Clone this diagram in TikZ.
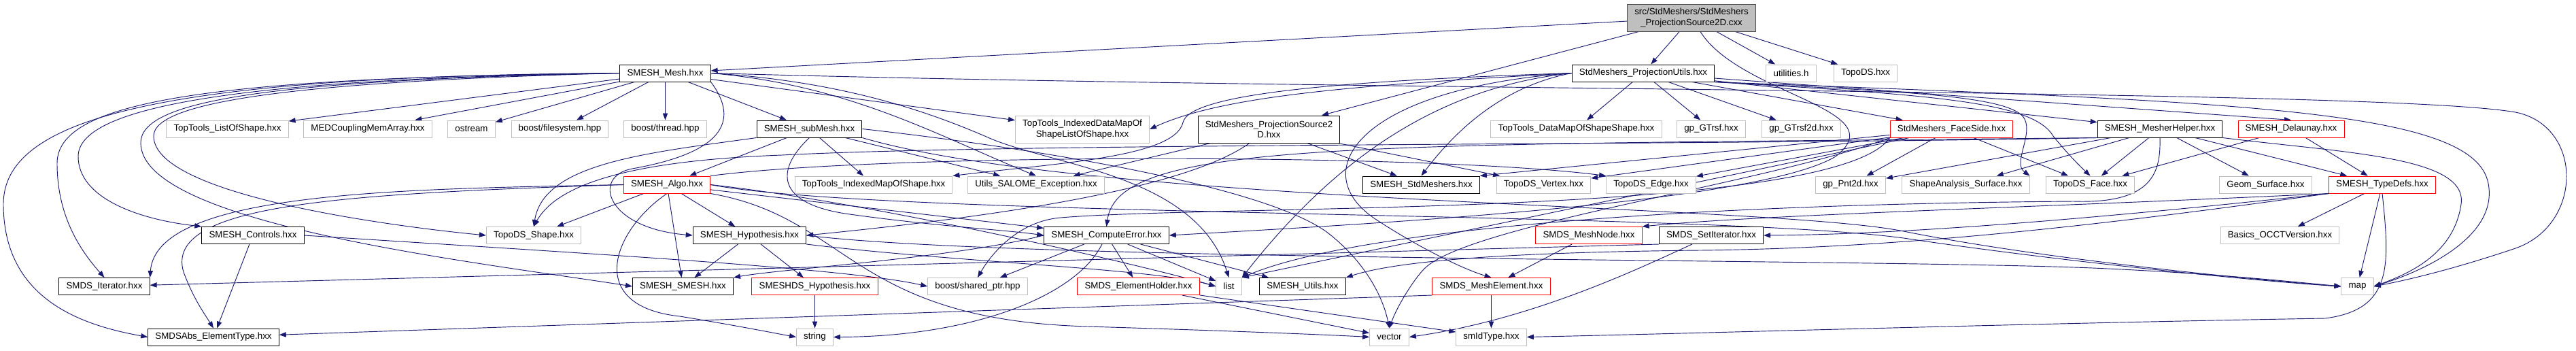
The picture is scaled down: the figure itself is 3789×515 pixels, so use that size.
\documentclass[tikz,border=0pt]{standalone}
\usepackage{fontspec}
\setmainfont{Liberation Sans}
\usepackage{tikz}
\usetikzlibrary{arrows.meta}

\definecolor{depblue}{HTML}{191970}
\definecolor{extgray}{HTML}{BFBFBF}
\pgfdeclarelayer{back}
\pgfsetlayers{back,main}

\begin{document}
\begin{tikzpicture}[
    x=0.75pt, y=-0.75pt,
    filebox/.style={
        rectangle, draw, fill=white, line width=0.75pt,
        font=\fontsize{10}{11.5}\selectfont, align=center,
        inner xsep=8pt, inner ysep=0pt, minimum height=18.75pt
    },
    docbox/.style={filebox, draw=black},
    extbox/.style={filebox, draw=extgray},
    cutbox/.style={filebox, draw=red},
    tall/.style={minimum height=30pt},
    dep/.style={draw=depblue, line width=0.7pt,
        -{Triangle[length=7.5pt,width=5.5pt]}}
]
\useasboundingbox (0,0) rectangle (3789,515);

% Layer 0
\node[filebox, draw=black!70, fill=extgray, tall] (root) at (2488,26)
    {src/StdMeshers/StdMeshers\\\_ProjectionSource2D.cxx};

% Layer 1
\node[docbox] (mesh)   at (978.5,107.5) {SMESH\_Mesh.hxx};
\node[docbox] (putils) at (2417,107.5)  {StdMeshers\_ProjectionUtils.hxx};
\node[extbox] (util)   at (2634.5,107.5) {utilities.h};
\node[extbox] (tds)    at (2744,107.5)  {TopoDS.hxx};

% Layer 2
\node[extbox] (tlos)     at (334.5,189.5)  {TopTools\_ListOfShape.hxx};
\node[extbox] (medc)     at (541,189.5)    {MEDCouplingMemArray.hxx};
\node[extbox] (ostr)     at (693.5,189.5)  {ostream};
\node[extbox] (bfs)      at (823.5,189.5)  {boost/filesystem.hpp};
\node[extbox] (bthr)     at (978.5,189.5)  {boost/thread.hpp};
\node[docbox] (submesh)  at (1190.5,189.5) {SMESH\_subMesh.hxx};
\node[extbox, tall] (tidm) at (1592,190)   {TopTools\_IndexedDataMapOf\\ShapeListOfShape.hxx};
\node[docbox, tall] (src2d) at (1866.5,190) {StdMeshers\_ProjectionSource2\\D.hxx};
\node[extbox] (tdmss)    at (2318.5,189.5) {TopTools\_DataMapOfShapeShape.hxx};
\node[extbox] (gtrsf)    at (2517,189.5)   {gp\_GTrsf.hxx};
\node[extbox] (gtrsf2d)  at (2649.5,189.5) {gp\_GTrsf2d.hxx};
\node[cutbox] (faceside) at (2870.5,189.5) {StdMeshers\_FaceSide.hxx};
\node[docbox] (helper)   at (3177,189.5)   {SMESH\_MesherHelper.hxx};
\node[cutbox] (delaunay) at (3370,189.5)   {SMESH\_Delaunay.hxx};

% Layer 3
\node[cutbox] (algo)     at (981,271.5)    {SMESH\_Algo.hxx};
\node[extbox] (timos)    at (1285,271.5)   {TopTools\_IndexedMapOfShape.hxx};
\node[extbox] (salexc)   at (1524,271.5)   {Utils\_SALOME\_Exception.hxx};
\node[docbox] (stdm)     at (2090.5,271.5) {SMESH\_StdMeshers.hxx};
\node[extbox] (vertex)   at (2270.5,271.5) {TopoDS\_Vertex.hxx};
\node[extbox] (edg)      at (2428.5,271.5) {TopoDS\_Edge.hxx};
\node[extbox] (pnt2d)    at (2722,271.5)   {gp\_Pnt2d.hxx};
\node[extbox] (sas)      at (2891.5,271.5) {ShapeAnalysis\_Surface.hxx};
\node[extbox] (face)     at (3074.5,271.5) {TopoDS\_Face.hxx};
\node[extbox] (geomsurf) at (3332.5,271.5) {Geom\_Surface.hxx};
\node[cutbox] (typedefs) at (3504,271.5)   {SMESH\_TypeDefs.hxx};

% Layer 4
\node[docbox] (controls) at (372,346)      {SMESH\_Controls.hxx};
\node[extbox] (shape)    at (785,346)      {TopoDS\_Shape.hxx};
\node[docbox] (hyp)      at (1102.5,346)   {SMESH\_Hypothesis.hxx};
\node[docbox] (comperr)  at (1627.5,346)   {SMESH\_ComputeError.hxx};
\node[cutbox] (meshnode) at (2337,346)     {SMDS\_MeshNode.hxx};
\node[docbox] (setiter)  at (2517,346)     {SMDS\_SetIterator.hxx};
\node[extbox] (occt)     at (3353.5,346)   {Basics\_OCCTVersion.hxx};

% Layer 5
\node[docbox] (iter)     at (153.5,421)    {SMDS\_Iterator.hxx};
\node[docbox] (smesh)    at (1004.5,421)   {SMESH\_SMESH.hxx};
\node[cutbox] (dshyp)    at (1198.5,421)   {SMESHDS\_Hypothesis.hxx};
\node[extbox] (shptr)    at (1438,421)     {boost/shared\_ptr.hpp};
\node[cutbox] (elemhold) at (1674.5,421)   {SMDS\_ElementHolder.hxx};
\node[extbox] (lst)      at (1807.5,421)   {list};
\node[docbox] (utils)    at (1916,421)     {SMESH\_Utils.hxx};
\node[cutbox] (meshelem) at (2193.5,421)   {SMDS\_MeshElement.hxx};
\node[extbox] (mapn)     at (3467.5,421)   {map};

% Layer 6 (bottom)
\node[docbox] (elemtype) at (314,495.5)    {SMDSAbs\_ElementType.hxx};
\node[extbox] (str)      at (1198.5,495.5) {string};
\node[extbox] (vec)      at (2043.5,495.5) {vector};
\node[extbox] (smid)     at (2193.5,495.5) {smIdType.hxx};

\begin{pgfonlayer}{back}
% Straight includes
\foreach \from/\to in {
    root/mesh, root/src2d, root/putils, root/util, root/tds,
    mesh/tlos, mesh/medc, mesh/ostr, mesh/bfs, mesh/bthr, mesh/submesh, mesh/tidm,
    putils/tdmss, putils/gtrsf, putils/gtrsf2d, putils/faceside, putils/helper, putils/delaunay.north,
    submesh/algo, submesh/timos, submesh/salexc,
    src2d/stdm, src2d/vertex, src2d/salexc,
    faceside/pnt2d, faceside/face, faceside/vertex, faceside/edg, faceside/stdm.north east, faceside/lst.north east,
    helper/pnt2d, helper/sas, helper/face, helper/geomsurf, helper/typedefs,
    delaunay/face, delaunay/typedefs,
    algo/shape, algo/smesh, algo/hyp, algo/comperr,
    hyp/smesh, hyp/dshyp, controls/elemtype,
    comperr/shptr, comperr/elemhold, comperr/lst, comperr/utils,
    dshyp/str, elemhold/vec, elemhold/smid,
    meshnode/meshelem, meshelem/smid, meshelem.south west/elemtype,
    setiter.south west/iter, typedefs/occt, typedefs/mapn}
{
    \draw[dep] (\from) -- (\to);
}

% Curves round the left side
\draw[dep] (mesh.west) .. controls (250,112) and (5,170) .. (5,300) .. controls (5,440) and (120,478) .. (elemtype.west);
\draw[dep] (mesh.west) .. controls (300,114) and (84,150) .. (84,240) .. controls (84,320) and (120,370) .. (iter.north);
\draw[dep] (mesh.west) .. controls (330,116) and (115,160) .. (115,230) .. controls (115,290) and (200,322) .. (controls.north west);
\draw[dep] (mesh.west) .. controls (380,118) and (207,150) .. (207,210) .. controls (207,330) and (700,385) .. (smesh.west);
\draw[dep] (mesh.west) .. controls (430,120) and (226,150) .. (226,200) .. controls (226,290) and (600,335) .. (shape.west);
\draw[dep] (algo.west) .. controls (600,278) and (230,280) .. (iter.north east);
\draw[dep] (algo.west) .. controls (500,285) and (240,300) .. (270,400) .. controls (285,440) and (300,460) .. (elemtype.north);
\draw[dep] (controls.east) .. controls (900,375) and (1250,395) .. (shptr.west);

% Curves in the middle
\draw[dep] (mesh.south east) .. controls (1090,180) and (1060,225) .. (930,248) .. controls (870,259) and (890,335) .. (hyp.west);
\draw[dep] (mesh.east) .. controls (1250,125) and (1380,200) .. (salexc.north);
\draw[dep] (mesh.east) .. controls (1250,120) and (1380,170) .. (1460,205) .. controls (1560,245) and (1760,260) .. (lst.north);
\draw[dep] (submesh.south west) .. controls (950,225) and (800,240) .. (shape.north);
\draw[dep] (submesh.south) .. controls (1140,250) and (1140,300) .. (1250,315) .. controls (1380,333) and (1480,338) .. (comperr.west);
\draw[dep] (submesh.east) .. controls (1500,215) and (1850,270) .. (1950,340) .. controls (2010,385) and (2035,440) .. (vec.north);
\draw[dep] (algo.north east) .. controls (1300,225) and (2100,225) .. (edg.north west);
\draw[dep] (algo.east) .. controls (1300,300) and (1700,395) .. (lst.west);
\draw[dep] (algo.south) .. controls (900,340) and (860,450) .. (1000,465) .. controls (1080,478) and (1130,488) .. (str.west);
\draw[dep] (algo.south east) .. controls (1250,320) and (1250,470) .. (1600,480) .. controls (1800,486) and (1950,492) .. (vec.west);
\draw[dep] (src2d) .. controls (1740,280) and (1450,320) .. (hyp.east);
\draw[dep] (hyp.south east) .. controls (1400,385) and (1700,395) .. (lst.west);
\draw[dep] (comperr) .. controls (1580,440) and (1420,495) .. (str.east);
\draw[dep] (comperr.west) .. controls (1400,380) and (1150,395) .. (smesh.north east);

% Curves from the projection utils
\draw[dep] (putils.west) .. controls (2000,125) and (1800,140) .. (tidm.east);
\draw[dep] (putils.west) .. controls (2000,118) and (1750,135) .. (1740,180) .. controls (1728,232) and (1550,240) .. (timos.north east);
\draw[dep] (putils.west) .. controls (2220,125) and (2150,180) .. (stdm.north);
\draw[dep] (putils.west) .. controls (2150,125) and (1990,200) .. (lst.north east);
\draw[dep] (putils.west) .. controls (2000,130) and (1920,250) .. (2020,320) .. controls (2080,360) and (2150,395) .. (meshelem.north);
\draw[dep] (putils.south east) .. controls (2800,135) and (2960,140) .. (2978,175) .. controls (2990,200) and (2960,240) .. (sas.north east);
\draw[dep] (putils.south east) .. controls (2850,140) and (2990,150) .. (3020,200) .. controls (3040,225) and (3060,245) .. (face.north);
\draw[dep] (root) .. controls (2560,140) and (2790,160) .. (2700,230) .. controls (2583,300) and (2000,330) .. (comperr.east);

% Curves from the right part
\draw[dep] (helper.south west) .. controls (2500,214) and (1500,210) .. (1150,228) .. controls (930,236) and (820,270) .. (shape.north);
\draw[dep] (helper.south west) .. controls (2000,214) and (1645,205) .. (comperr.north);
\draw[dep] (helper.south) .. controls (3178,250) and (3170,300) .. (3050,296) .. controls (2500,300) and (2000,335) .. (lst.north east);
\draw[dep] (faceside.south west) .. controls (2700,320) and (1800,300) .. (1560,320) .. controls (1500,325) and (1460,370) .. (shptr.north);
\draw[dep] (faceside.south west) .. controls (2600,270) and (2160,330) .. (2095,395) .. controls (2080,410) and (2055,450) .. (vec.north);
\draw[dep] (setiter) .. controls (2400,400) and (2250,470) .. (vec.east);
\draw[dep] (typedefs.south west) .. controls (3100,330) and (2800,365) .. (2500,368) .. controls (2200,371) and (2050,385) .. (utils.north east);
\draw[dep] (typedefs.south west) .. controls (3100,320) and (2800,345) .. (setiter.east);
\draw[dep] (typedefs.south west) .. controls (3000,305) and (2600,315) .. (meshnode.north east);
\draw[dep] (typedefs.south) .. controls (3515,390) and (3520,455) .. (3420,468) .. controls (3000,475) and (2500,490) .. (smid.east);

% Long ones into map
\draw[dep] (mesh.east) .. controls (2000,135) and (3500,130) .. (3700,165) .. controls (3800,185) and (3800,330) .. (3700,365) .. controls (3620,392) and (3550,410) .. (mapn.east);
\draw[dep] (putils.south east) .. controls (3300,150) and (3640,160) .. (3660,270) .. controls (3675,350) and (3560,400) .. (mapn.east);
\draw[dep] (helper.south east) .. controls (3450,225) and (3630,230) .. (3620,300) .. controls (3610,370) and (3550,400) .. (mapn.east);
\draw[dep] (submesh.south east) .. controls (1600,300) and (2600,300) .. (2800,340) .. controls (3000,380) and (3300,410) .. (mapn.west);
\draw[dep] (algo.east) .. controls (1300,320) and (2500,310) .. (2800,350) .. controls (3000,380) and (3300,412) .. (mapn.west);
\draw[dep] (hyp.east) .. controls (1500,385) and (2800,380) .. (3100,395) .. controls (3250,402) and (3350,412) .. (mapn.west);
\end{pgfonlayer}

\end{tikzpicture}
\end{document}
